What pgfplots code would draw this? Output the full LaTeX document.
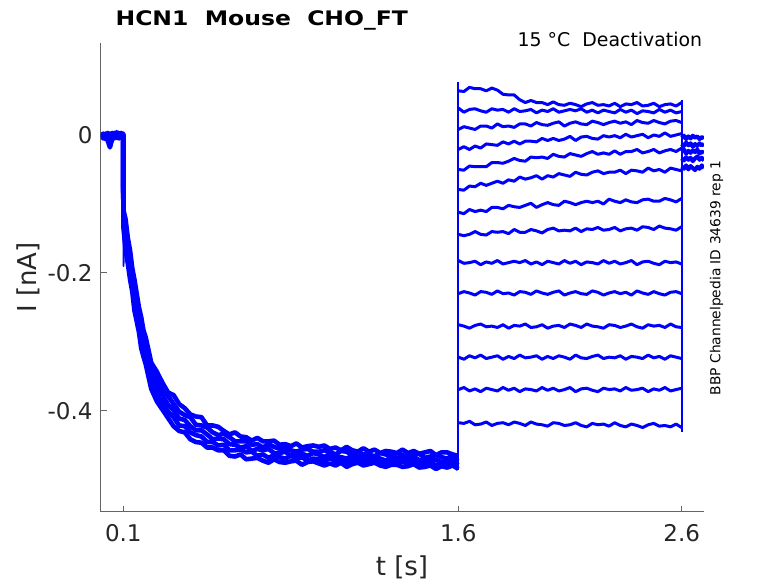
\documentclass[border=0pt]{standalone}
\usepackage{pgfplots}
\pgfplotsset{compat=1.18}
\usepackage{pgfplotstable}
\usepackage{fontspec}
\setmainfont{DejaVu Sans}
\definecolor{axgray}{RGB}{100,100,100}
\definecolor{txt}{RGB}{38,38,38}
\definecolor{tr}{RGB}{0,0,255}

\pgfplotstableread{
t a1 a2 a3 a4 a5
0.00 0.001 -0.002 -0.004 0.002 -0.003
0.01 -0.003 0.002 -0.001 -0.005 0.001
0.02 0.002 -0.004 0.001 -0.002 -0.006
0.03 -0.004 0 -0.008 0.003 -0.001
0.04 0.001 -0.003 -0.018 -0.004 0.002
0.05 -0.002 0.003 -0.006 0 -0.004
0.06 0.003 -0.005 0.001 -0.003 0.002
0.07 -0.001 0.001 -0.004 0.004 -0.002
0.08 0.002 -0.002 0.003 -0.001 -0.005
0.09 -0.003 0.003 -0.002 0.002 0.001
0.0995 0.001 -0.001 0.002 -0.003 0
0.10 -0.108 -0.115 -0.119 -0.126 -0.132
0.11 -0.122 -0.133 -0.147 -0.157 -0.167
0.12 -0.149 -0.157 -0.164 -0.174 -0.186
0.13 -0.167 -0.181 -0.188 -0.199 -0.209
0.14 -0.193 -0.198 -0.211 -0.218 -0.227
0.15 -0.210 -0.221 -0.235 -0.244 -0.255
0.16 -0.230 -0.242 -0.248 -0.260 -0.270
0.17 -0.250 -0.255 -0.267 -0.275 -0.286
0.18 -0.264 -0.278 -0.289 -0.300 -0.309
0.19 -0.283 -0.292 -0.302 -0.311 -0.321
0.20 -0.293 -0.308 -0.312 -0.323 -0.332
0.225 -0.330 -0.335 -0.348 -0.358 -0.368
0.25 -0.343 -0.353 -0.367 -0.377 -0.386
0.275 -0.359 -0.371 -0.377 -0.387 -0.398
0.30 -0.373 -0.378 -0.391 -0.401 -0.410
0.325 -0.377 -0.390 -0.399 -0.409 -0.422
0.35 -0.390 -0.401 -0.411 -0.421 -0.429
0.375 -0.396 -0.406 -0.413 -0.422 -0.431
0.40 -0.405 -0.409 -0.422 -0.431 -0.441
0.425 -0.408 -0.420 -0.428 -0.435 -0.445
0.45 -0.409 -0.421 -0.428 -0.437 -0.446
0.475 -0.421 -0.424 -0.434 -0.445 -0.453
0.50 -0.421 -0.431 -0.441 -0.445 -0.453
0.525 -0.423 -0.435 -0.440 -0.450 -0.457
0.55 -0.429 -0.433 -0.441 -0.449 -0.457
0.575 -0.434 -0.438 -0.448 -0.457 -0.465
0.60 -0.431 -0.444 -0.449 -0.457 -0.466
0.625 -0.437 -0.444 -0.453 -0.456 -0.463
0.65 -0.438 -0.444 -0.451 -0.460 -0.470
0.675 -0.443 -0.449 -0.458 -0.459 -0.469
0.70 -0.439 -0.448 -0.455 -0.465 -0.468
0.725 -0.444 -0.453 -0.457 -0.463 -0.472
0.75 -0.444 -0.448 -0.455 -0.468 -0.475
0.775 -0.443 -0.452 -0.461 -0.464 -0.470
0.80 -0.449 -0.455 -0.461 -0.467 -0.474
0.825 -0.448 -0.453 -0.459 -0.469 -0.475
0.85 -0.451 -0.457 -0.465 -0.465 -0.473
0.875 -0.447 -0.459 -0.462 -0.469 -0.472
0.90 -0.453 -0.456 -0.462 -0.467 -0.478
0.925 -0.451 -0.455 -0.465 -0.472 -0.474
0.95 -0.450 -0.459 -0.461 -0.469 -0.473
0.975 -0.452 -0.459 -0.463 -0.470 -0.476
1.00 -0.450 -0.457 -0.467 -0.473 -0.479
1.025 -0.455 -0.459 -0.462 -0.468 -0.476
1.05 -0.453 -0.463 -0.466 -0.473 -0.479
1.075 -0.457 -0.458 -0.467 -0.470 -0.475
1.10 -0.452 -0.459 -0.469 -0.474 -0.481
1.125 -0.457 -0.464 -0.465 -0.472 -0.477
1.15 -0.459 -0.459 -0.466 -0.469 -0.475
1.175 -0.454 -0.463 -0.469 -0.475 -0.479
1.20 -0.459 -0.463 -0.468 -0.472 -0.477
1.225 -0.456 -0.466 -0.465 -0.471 -0.475
1.25 -0.461 -0.461 -0.469 -0.474 -0.479
1.275 -0.458 -0.463 -0.472 -0.477 -0.481
1.30 -0.459 -0.466 -0.467 -0.472 -0.478
1.325 -0.461 -0.461 -0.469 -0.474 -0.478
1.35 -0.456 -0.464 -0.468 -0.473 -0.481
1.375 -0.461 -0.467 -0.472 -0.477 -0.480
1.40 -0.458 -0.464 -0.467 -0.472 -0.477
1.425 -0.462 -0.462 -0.471 -0.476 -0.482
1.45 -0.460 -0.468 -0.472 -0.475 -0.481
1.475 -0.458 -0.466 -0.469 -0.474 -0.479
1.50 -0.464 -0.464 -0.471 -0.479 -0.484
1.525 -0.460 -0.467 -0.474 -0.475 -0.480
1.55 -0.460 -0.469 -0.471 -0.478 -0.482
1.575 -0.463 -0.464 -0.469 -0.474 -0.479
1.60 -0.465 -0.466 -0.473 -0.479 -0.484
}\act

\pgfplotstableread{
t b1 b2 b3 b4 b5 b6 b7 b8 b9 b10 b11 b12 b13 b14
1.600 0.064 0.039 0.008 -0.021 -0.050 -0.079 -0.112 -0.144 -0.182 -0.230 -0.275 -0.322 -0.369 -0.417
1.625 0.063 0.033 0.012 -0.017 -0.051 -0.080 -0.114 -0.146 -0.186 -0.227 -0.277 -0.325 -0.366 -0.418
1.650 0.069 0.037 0.010 -0.021 -0.045 -0.074 -0.108 -0.144 -0.185 -0.229 -0.280 -0.320 -0.371 -0.415
1.675 0.067 0.038 0.008 -0.016 -0.046 -0.075 -0.111 -0.140 -0.183 -0.232 -0.276 -0.323 -0.368 -0.420
1.700 0.067 0.035 0.013 -0.019 -0.046 -0.070 -0.109 -0.144 -0.188 -0.227 -0.274 -0.319 -0.372 -0.419
1.725 0.064 0.033 0.013 -0.013 -0.046 -0.073 -0.111 -0.145 -0.184 -0.228 -0.278 -0.324 -0.367 -0.416
1.750 0.068 0.038 0.010 -0.014 -0.040 -0.070 -0.105 -0.140 -0.186 -0.231 -0.277 -0.322 -0.369 -0.421
1.775 0.065 0.036 0.016 -0.015 -0.040 -0.067 -0.105 -0.141 -0.182 -0.226 -0.279 -0.320 -0.371 -0.418
1.800 0.059 0.037 0.012 -0.010 -0.041 -0.070 -0.107 -0.140 -0.187 -0.230 -0.275 -0.325 -0.366 -0.417
1.825 0.058 0.033 0.013 -0.013 -0.038 -0.065 -0.102 -0.143 -0.185 -0.229 -0.280 -0.321 -0.370 -0.420
1.850 0.058 0.038 0.011 -0.009 -0.034 -0.067 -0.104 -0.137 -0.183 -0.232 -0.276 -0.324 -0.367 -0.416
1.875 0.051 0.034 0.016 -0.013 -0.037 -0.061 -0.105 -0.141 -0.185 -0.227 -0.277 -0.319 -0.372 -0.418
1.900 0.047 0.035 0.016 -0.009 -0.038 -0.064 -0.102 -0.141 -0.182 -0.228 -0.274 -0.323 -0.368 -0.421
1.925 0.050 0.037 0.013 -0.009 -0.032 -0.062 -0.099 -0.137 -0.187 -0.231 -0.279 -0.322 -0.369 -0.416
1.950 0.047 0.032 0.018 -0.010 -0.033 -0.059 -0.105 -0.139 -0.184 -0.226 -0.278 -0.320 -0.371 -0.419
1.975 0.047 0.036 0.015 -0.005 -0.032 -0.064 -0.101 -0.142 -0.188 -0.229 -0.275 -0.325 -0.366 -0.420
2.000 0.044 0.034 0.014 -0.008 -0.034 -0.059 -0.098 -0.137 -0.183 -0.231 -0.280 -0.321 -0.370 -0.422
2.025 0.048 0.038 0.017 -0.005 -0.028 -0.061 -0.101 -0.135 -0.185 -0.228 -0.277 -0.324 -0.367 -0.417
2.050 0.044 0.033 0.019 -0.008 -0.031 -0.056 -0.102 -0.139 -0.187 -0.226 -0.276 -0.320 -0.371 -0.418
2.075 0.043 0.035 0.013 -0.006 -0.032 -0.058 -0.096 -0.138 -0.182 -0.232 -0.279 -0.322 -0.369 -0.421
2.100 0.046 0.037 0.017 -0.002 -0.027 -0.060 -0.098 -0.139 -0.186 -0.229 -0.274 -0.325 -0.366 -0.420
2.125 0.044 0.035 0.019 -0.008 -0.029 -0.054 -0.101 -0.135 -0.183 -0.227 -0.276 -0.319 -0.372 -0.417
2.150 0.041 0.038 0.016 -0.003 -0.031 -0.057 -0.098 -0.140 -0.188 -0.230 -0.279 -0.323 -0.368 -0.421
2.175 0.045 0.033 0.015 -0.002 -0.027 -0.058 -0.096 -0.136 -0.184 -0.231 -0.274 -0.324 -0.367 -0.423
2.200 0.047 0.036 0.020 -0.005 -0.024 -0.054 -0.098 -0.137 -0.185 -0.226 -0.277 -0.321 -0.370 -0.418
2.225 0.043 0.032 0.018 -0.006 -0.028 -0.052 -0.096 -0.134 -0.187 -0.228 -0.278 -0.319 -0.372 -0.420
2.250 0.044 0.036 0.015 -0.001 -0.026 -0.056 -0.100 -0.138 -0.182 -0.232 -0.280 -0.324 -0.367 -0.419
2.275 0.042 0.034 0.018 -0.003 -0.028 -0.054 -0.093 -0.137 -0.186 -0.229 -0.275 -0.322 -0.369 -0.422
2.300 0.046 0.032 0.020 -0.001 -0.023 -0.054 -0.096 -0.134 -0.183 -0.227 -0.276 -0.323 -0.368 -0.417
2.325 0.041 0.037 0.017 -0.004 -0.028 -0.051 -0.098 -0.139 -0.187 -0.230 -0.279 -0.320 -0.371 -0.421
2.350 0.045 0.033 0.019 0.001 -0.024 -0.056 -0.094 -0.136 -0.185 -0.228 -0.277 -0.325 -0.366 -0.423
2.375 0.044 0.036 0.015 -0.003 -0.024 -0.051 -0.097 -0.135 -0.182 -0.232 -0.274 -0.321 -0.370 -0.419
2.400 0.047 0.031 0.021 -0.001 -0.021 -0.052 -0.098 -0.138 -0.188 -0.226 -0.278 -0.322 -0.369 -0.421
2.425 0.042 0.035 0.018 0.001 -0.026 -0.054 -0.094 -0.133 -0.184 -0.229 -0.280 -0.324 -0.367 -0.424
2.450 0.043 0.034 0.017 -0.004 -0.024 -0.048 -0.093 -0.134 -0.183 -0.231 -0.275 -0.319 -0.372 -0.420
2.475 0.046 0.032 0.021 0 -0.021 -0.052 -0.096 -0.137 -0.186 -0.227 -0.277 -0.323 -0.368 -0.418
2.500 0.041 0.037 0.018 -0.002 -0.026 -0.050 -0.096 -0.132 -0.188 -0.230 -0.276 -0.321 -0.370 -0.422
2.525 0.044 0.033 0.016 0.003 -0.023 -0.054 -0.092 -0.135 -0.183 -0.232 -0.279 -0.325 -0.366 -0.421
2.550 0.045 0.036 0.020 -0.002 -0.021 -0.048 -0.094 -0.136 -0.185 -0.228 -0.274 -0.320 -0.371 -0.423
2.575 0.042 0.032 0.021 0 -0.024 -0.050 -0.097 -0.138 -0.184 -0.227 -0.278 -0.322 -0.369 -0.419
2.600 0.047 0.034 0.018 0.002 -0.019 -0.052 -0.092 -0.133 -0.187 -0.230 -0.279 -0.324 -0.367 -0.424
}\tst

\pgfplotstableread{
t e1 e2 e3 e4 e5
2.600 -0.004 -0.013 -0.024 -0.034 -0.046
2.610 -0.001 -0.016 -0.021 -0.037 -0.049
2.620 -0.006 -0.011 -0.027 -0.032 -0.044
2.630 -0.002 -0.015 -0.023 -0.036 -0.050
2.640 -0.005 -0.012 -0.026 -0.033 -0.045
2.650 -0.001 -0.017 -0.022 -0.038 -0.048
2.660 -0.004 -0.013 -0.025 -0.034 -0.051
2.670 -0.002 -0.016 -0.021 -0.031 -0.046
2.680 -0.006 -0.012 -0.027 -0.036 -0.049
2.690 -0.003 -0.015 -0.024 -0.033 -0.044
2.700 -0.005 -0.013 -0.026 -0.037 -0.048
}\tail

\begin{document}
\begin{tikzpicture}
\useasboundingbox (0,0) rectangle (389pt,291.5pt);
\begin{axis}[
  at={(50.5pt,35.5pt)}, anchor=south west, scale only axis,
  width=301.5pt, height=234.5pt,
  xmin=0, xmax=2.7, ymin=-0.5464, ymax=0.1333,
  axis x line*=bottom, axis y line*=left,
  axis line style={-, axgray, line width=0.5pt},
  every outer x axis line/.append style={-},
  every outer y axis line/.append style={-},
  tick style={axgray, line width=0.5pt}, tick align=inside, major tick length=3pt,
  xtick={0.1,1.6,2.6}, xticklabels={0.1,1.6,2.6},
  ytick={-0.4,-0.2,0}, yticklabels={-0.4,-0.2,0},
  ticklabel style={font=\fontsize{11.5}{13}\selectfont, text=txt},
  x tick label style={yshift=-2.7pt},
  y tick label style={xshift=-0.7pt},
  every axis plot/.append style={tr, line join=round, mark=none},
]
\foreach \c in {a1,a2,a3,a4,a5} {
  \addplot[line width=2.3pt] table[x=t, y=\c] {\act};
}
\foreach \c in {b1,b2,b3,b4,b5,b6,b7,b8,b9,b10,b11,b12,b13,b14} {
  \addplot[line width=1.5pt] table[x=t, y=\c] {\tst};
}
\foreach \c in {e1,e2,e3,e4,e5} {
  \addplot[line width=2pt] table[x=t, y=\c] {\tail};
}
\addplot[line width=0.9pt] coordinates {(0.1,0.002) (0.1,-0.132)};
\addplot[line width=0.9pt] coordinates {(0.1,-0.13) (0.101,-0.19) (0.103,-0.15)};
\addplot[line width=0.9pt] coordinates {(1.6,-0.486) (1.6,0.077)};
\addplot[line width=0.9pt] coordinates {(2.6,-0.43) (2.6,0.05)};
\end{axis}
\node[inner sep=0pt, anchor=base west, font=\fontsize{10}{12}\selectfont, text=black] at (57.6pt,278.6pt) {\scalebox{1.174}[1]{\bfseries HCN1\ \ Mouse\ \ CHO\_FT}};
\node[inner sep=0pt, anchor=base east, font=\fontsize{9.45}{11}\selectfont, text=black] at (351.3pt,268pt) {15 °C\ \ Deactivation};
\node[rotate=90, font=\fontsize{6.9}{8}\selectfont, text=black] at (358.3pt,152.5pt) {BBP Channelpedia ID 34639 rep 1};
\node[anchor=base, font=\fontsize{13}{15}\selectfont, text=txt] at (201pt,3.5pt) {t [s]};
\node[rotate=90, font=\fontsize{13}{15}\selectfont, text=txt] at (14pt,152.75pt) {I [nA]};
\end{tikzpicture}
\end{document}
